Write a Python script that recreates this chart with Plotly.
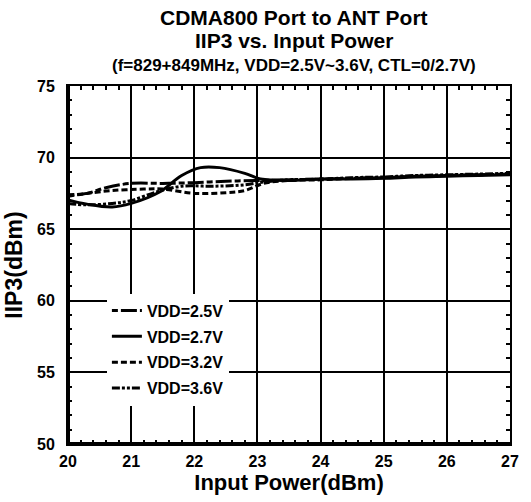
import plotly.graph_objects as go

# ---- data ----
x_25 = [20, 20.3, 20.6, 21, 21.5, 22, 22.5, 23, 23.5, 24, 24.5, 25, 25.5, 26, 26.5, 27]
y_25 = [67.4, 67.5, 67.9, 68.2, 68.2, 68.25, 68.35, 68.4, 68.45, 68.5, 68.55, 68.6, 68.7, 68.75, 68.8, 68.85]

x_27 = [20, 20.3, 20.7, 21, 21.45, 21.8, 22.1, 22.4, 22.8, 23.05, 23.5, 24, 24.5, 25, 25.5, 26, 26.5, 27]
y_27 = [67.05, 66.75, 66.55, 66.8, 67.6, 68.75, 69.3, 69.3, 68.9, 68.5, 68.4, 68.5, 68.5, 68.55, 68.65, 68.7, 68.75, 68.8]

x_32 = [20, 20.3, 20.7, 21.2, 21.5, 22, 22.5, 22.8, 23.1, 23.5, 24, 24.5, 25, 25.5, 26, 26.5, 27]
y_32 = [67.3, 67.5, 67.7, 67.8, 67.8, 67.5, 67.55, 67.7, 68.2, 68.4, 68.45, 68.55, 68.6, 68.7, 68.75, 68.8, 68.85]

x_36 = [20, 20.3, 20.7, 21, 21.4, 21.8, 22.3, 22.8, 23.1, 23.5, 24, 24.5, 25, 25.5, 26, 26.5, 27]
y_36 = [66.8, 66.7, 66.8, 67.0, 67.6, 68.0, 68.0, 68.1, 68.3, 68.45, 68.5, 68.6, 68.65, 68.75, 68.8, 68.85, 68.9]

names = ["VDD=2.5V", "VDD=2.7V", "VDD=3.2V", "VDD=3.6V"]
xs_all = [x_25, x_27, x_32, x_36]
ys_all = [y_25, y_27, y_32, y_36]
dashes = ["6px,3px,16px,3px", "solid", "6px,3px", "8px,2px,3px,2px,3px,2px"]

FONT = "Liberation Sans, Arial, sans-serif"

fig = go.Figure()
for name, xs, ys, dash in zip(names, xs_all, ys_all, dashes):
    fig.add_trace(go.Scatter(x=xs, y=ys, mode="lines", name=name, legendgroup=name,
                             line=dict(color="black", width=3, dash=dash, shape="spline")))

axis_common = dict(
    showline=True, linecolor="black", linewidth=2, mirror="ticks",
    showgrid=True, gridcolor="black", gridwidth=2,
    ticks="inside", tickcolor="black", ticklen=5, tickwidth=2,
    tickfont=dict(family=FONT, size=16, color="black", weight="bold"),
    zeroline=False,
)

fig.update_xaxes(range=[20, 27], dtick=1, tick0=20,
                 minor=dict(dtick=0.2, ticks="inside", ticklen=4, tickcolor="black", tickwidth=1.5, showgrid=False),
                 title=dict(text="Input Power(dBm)", font=dict(family=FONT, size=22, color="black", weight="bold"), standoff=4),
                 ticklabelstandoff=2,
                 **axis_common)
fig.update_yaxes(range=[50, 75], dtick=5, tick0=50,
                 minor=dict(dtick=1, ticks="inside", ticklen=4, tickcolor="black", tickwidth=1.5, showgrid=False),
                 title=dict(text="IIP3(dBm)", font=dict(family=FONT, size=23, color="black", weight="bold"), standoff=8),
                 ticklabelstandoff=8,
                 **axis_common)

# thick left and bottom frame edges
fig.add_shape(type="line", xref="paper", yref="paper", x0=0, x1=0, y0=0, y1=1,
              line=dict(color="black", width=4), layer="above")
fig.add_shape(type="line", xref="paper", yref="paper", x0=0, x1=1, y0=0, y1=0,
              line=dict(color="black", width=4), layer="above")

# titles
fig.add_annotation(text="CDMA800 Port to ANT Port", xref="paper", yref="paper", x=0.512, y=1.192,
                   yanchor="middle", showarrow=False,
                   font=dict(family=FONT, size=21, color="black", weight="bold"))
fig.add_annotation(text="IIP3 vs. Input Power", xref="paper", yref="paper", x=0.512, y=1.128,
                   yanchor="middle", showarrow=False,
                   font=dict(family=FONT, size=21, color="black", weight="bold"))
fig.add_annotation(text="(f=829+849MHz, VDD=2.5V~3.6V, CTL=0/2.7V)", xref="paper", yref="paper", x=0.511, y=1.058,
                   yanchor="middle", showarrow=False,
                   font=dict(family=FONT, size=17, color="black", weight="bold"))

fig.update_layout(
    width=531, height=502,
    margin=dict(l=68, r=18, t=86, b=57),
    paper_bgcolor="white", plot_bgcolor="white",
    legend=dict(
        x=0.088, y=0.42, xanchor="left", yanchor="top",
        bgcolor="white", borderwidth=0,
        font=dict(family=FONT, size=16, color="black", weight="bold"),
        tracegroupgap=2,
    ),
    showlegend=True,
)

fig.write_html("out.html", config={"displayModeBar": False},
               post_script="document.body.style.margin='0px';")
